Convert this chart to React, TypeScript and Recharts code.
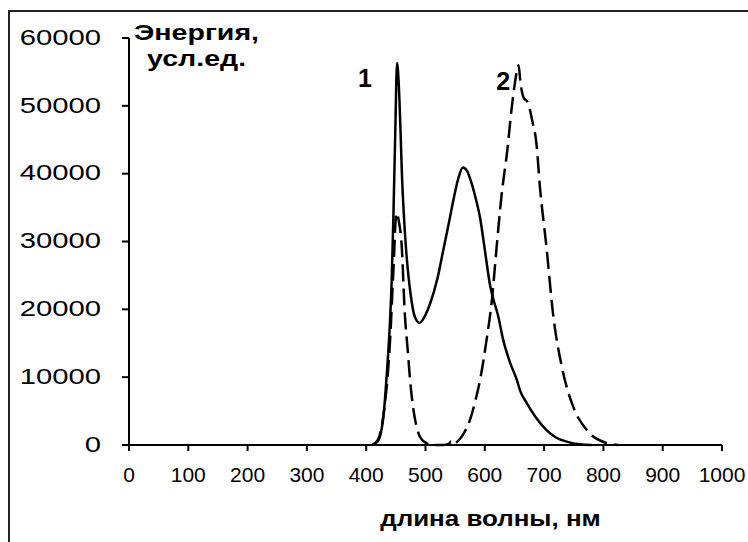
import { LineChart, Line, XAxis, YAxis, ReferenceDot } from "recharts";

// Curve 1 (solid): wavelength, nm / energy, arb. units
const WAVE_1 = [410, 418, 423, 430, 434, 440, 443, 446, 449, 452, 455, 458, 460, 465, 470, 474, 482, 490, 500, 508, 520, 530, 540, 547, 555, 563, 570, 577, 584, 592, 600, 609, 615, 622, 631, 642, 654, 660, 671, 685, 704, 720, 738, 760, 780];
const ENERGY_1 = [0, 400, 1200, 5000, 9600, 18000, 24300, 34200, 46000, 56300, 53000, 46000, 40500, 31700, 26000, 22850, 18900, 18000, 19200, 20900, 24500, 28750, 33000, 36100, 39200, 40900, 40400, 38800, 36600, 33500, 28800, 23500, 21300, 19200, 15500, 12300, 9600, 7900, 6150, 4200, 2200, 1100, 500, 100, 0];

// Curve 2 (dashed)
const WAVE_2 = [410, 420, 430, 440, 446, 451, 455, 460, 465, 470, 474, 480, 485, 492, 502, 515, 530, 540, 543, 546, 555, 565, 575, 584, 592, 603, 612, 620, 628, 638, 645, 651, 657, 660, 665, 673, 680, 687, 693, 704, 715, 730, 749, 772, 805, 825];
const ENERGY_2 = [0, 800, 5000, 15000, 26000, 34200, 33000, 29200, 19500, 14000, 9600, 5000, 2700, 1000, 250, 0, 0, 200, 500, 100, 600, 1800, 3700, 6500, 9600, 15500, 21400, 29200, 36600, 43500, 49400, 53500, 56000, 53500, 51300, 50400, 47800, 44500, 38000, 29200, 19400, 11500, 5650, 2200, 300, 0];

const X_TICKS = [0, 100, 200, 300, 400, 500, 600, 700, 800, 900, 1000];
const Y_TICKS = [0, 10000, 20000, 30000, 40000, 50000, 60000];

const series1 = WAVE_1.map((x, i) => ({ x, y: ENERGY_1[i] }));
const series2 = WAVE_2.map((x, i) => ({ x, y: ENERGY_2[i] }));

const FONT = "'Liberation Sans', Arial, sans-serif";

function YTick(props: any) {
  const { x, y, payload } = props;
  return (
    <text
      transform={`translate(${x} ${y - 1}) scale(1.33 1)`}
      textAnchor="end"
      dy="0.35em"
      fontSize={22}
      fontFamily={FONT}
      fill="#000"
    >
      {payload.value}
    </text>
  );
}

function YTitle(props: any) {
  const vb = props.viewBox;
  const x0 = vb.x + vb.width;
  return (
    <g fontFamily={FONT} fontWeight="bold" fontSize={22} fill="#000">
      <text transform={`translate(${x0 + 5} 40) scale(1.3 1)`}>Энергия,</text>
      <text transform={`translate(${x0 + 18} 66) scale(1.3 1)`}>усл.ед.</text>
    </g>
  );
}

function XTitle(props: any) {
  const vb = props.viewBox;
  return (
    <text
      transform={`translate(${vb.x + vb.width / 2 + 65} 526) scale(1.18 1)`}
      textAnchor="middle"
      fontFamily={FONT}
      fontWeight="bold"
      fontSize={22}
      fill="#000"
    >
      длина волны, нм
    </text>
  );
}

const curveLabel = (text: string) => (props: any) => {
  const vb = props.viewBox;
  return (
    <text
      x={vb.x}
      y={vb.y}
      textAnchor="middle"
      dy="0.35em"
      fontFamily={FONT}
      fontWeight="bold"
      fontSize={25}
      fill="#000"
    >
      {text}
    </text>
  );
};

export default function App() {
  return (
    <div style={{ position: "relative", width: 748, height: 542, background: "#fff", overflow: "hidden" }}>
      <style>{"body{margin:0}"}</style>
      <div
        style={{
          position: "absolute",
          left: 8,
          top: 10,
          width: 760,
          height: 560,
          borderLeft: "2px solid #222",
          borderTop: "2px solid #222",
        }}
      />
      <LineChart
        width={748}
        height={542}
        margin={{ top: 38, right: 26, bottom: 0, left: 0 }}
        style={{ position: "absolute", left: 0, top: 0 }}
      >
        <XAxis
          dataKey="x"
          type="number"
          domain={[0, 1000]}
          ticks={X_TICKS}
          interval={0}
          allowDataOverflow
          height={97}
          tickSize={6}
          tickMargin={16}
          stroke="#000"
          strokeWidth={2}
          tick={{ fontSize: 21, fontFamily: FONT, fill: "#000" }}
          label={{ content: XTitle }}
        />
        <YAxis
          dataKey="y"
          type="number"
          domain={[0, 60000]}
          ticks={Y_TICKS}
          interval={0}
          width={129}
          tickSize={7}
          tickMargin={21}
          stroke="#000"
          strokeWidth={2}
          tick={YTick}
          label={{ content: YTitle }}
        />
        <Line
          data={series1}
          dataKey="y"
          type="monotone"
          stroke="#000"
          strokeWidth={2.5}
          dot={false}
          isAnimationActive={false}
        />
        <Line
          data={series2}
          dataKey="y"
          type="monotone"
          stroke="#000"
          strokeWidth={2.5}
          strokeDasharray="17 7"
          dot={false}
          isAnimationActive={false}
        />
        <ReferenceDot x={398} y={54000} r={0} stroke="none" label={{ content: curveLabel("1") }} />
        <ReferenceDot x={631} y={53600} r={0} stroke="none" label={{ content: curveLabel("2") }} />
      </LineChart>
    </div>
  );
}
